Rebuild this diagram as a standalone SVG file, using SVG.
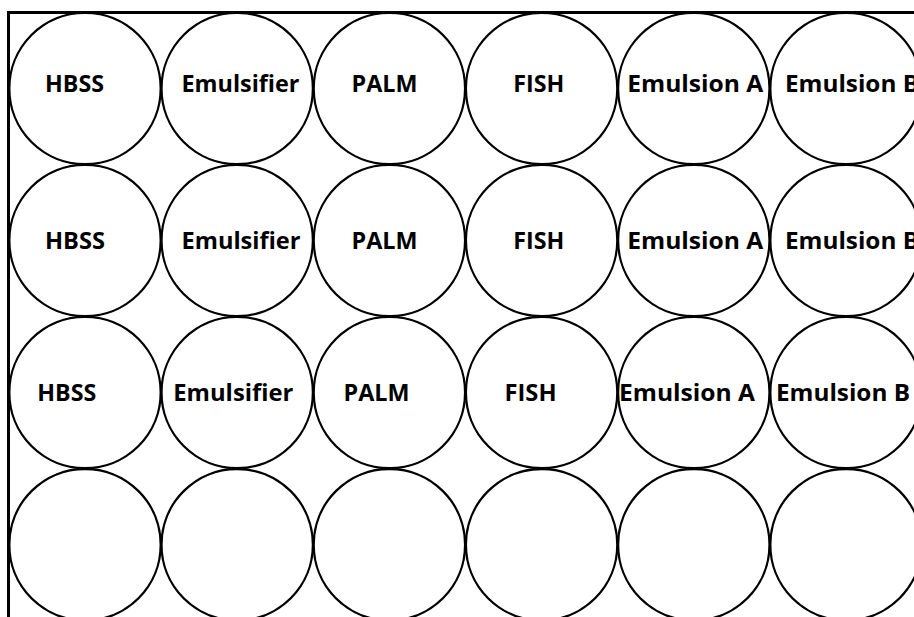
<svg xmlns="http://www.w3.org/2000/svg" width="914" height="617" viewBox="0 0 914 617">
<style>
.well{fill:#fff;stroke:#000;stroke-width:2.3}
.lbl{font-family:"Open Sans","Noto Sans","Liberation Sans",sans-serif;font-weight:bold;font-size:24px;fill:#000}
</style>
<rect x="0" y="0" width="914" height="617" fill="#fff"/>
<g id="plate">
<path d="M8.5,617 V12.5 H914" fill="none" stroke="#000" stroke-width="3"/>
</g>
<g id="r1c1"><circle class="well" cx="85" cy="88.5" r="75.7"/><text class="lbl" x="45" y="92" textLength="59" lengthAdjust="spacingAndGlyphs">HBSS</text></g>
<g id="r1c2"><circle class="well" cx="237.2" cy="88.5" r="75.7"/><text class="lbl" x="181.5" y="92" textLength="118" lengthAdjust="spacingAndGlyphs">Emulsifier</text></g>
<g id="r1c3"><circle class="well" cx="389.4" cy="88.5" r="75.7"/><text class="lbl" x="351.5" y="92" textLength="66" lengthAdjust="spacingAndGlyphs">PALM</text></g>
<g id="r1c4"><circle class="well" cx="541.6" cy="88.5" r="75.7"/><text class="lbl" x="513.3" y="92" textLength="51" lengthAdjust="spacingAndGlyphs">FISH</text></g>
<g id="r1c5"><circle class="well" cx="693.8" cy="88.5" r="75.7"/><text class="lbl" x="627.3" y="92" textLength="136" lengthAdjust="spacingAndGlyphs">Emulsion A</text></g>
<g id="r1c6"><circle class="well" cx="846" cy="88.5" r="75.7"/><text class="lbl" x="785" y="92" textLength="134" lengthAdjust="spacingAndGlyphs">Emulsion B</text></g>

<g id="r2c1"><circle class="well" cx="85" cy="240.5" r="75.7"/><text class="lbl" x="45" y="249.3" textLength="60" lengthAdjust="spacingAndGlyphs">HBSS</text></g>
<g id="r2c2"><circle class="well" cx="237.2" cy="240.5" r="75.7"/><text class="lbl" x="181.5" y="249.3" textLength="119" lengthAdjust="spacingAndGlyphs">Emulsifier</text></g>
<g id="r2c3"><circle class="well" cx="389.4" cy="240.5" r="75.7"/><text class="lbl" x="351.5" y="249.3" textLength="66" lengthAdjust="spacingAndGlyphs">PALM</text></g>
<g id="r2c4"><circle class="well" cx="541.6" cy="240.5" r="75.7"/><text class="lbl" x="513.3" y="249.3" textLength="51" lengthAdjust="spacingAndGlyphs">FISH</text></g>
<g id="r2c5"><circle class="well" cx="693.8" cy="240.5" r="75.7"/><text class="lbl" x="627.3" y="249.3" textLength="136" lengthAdjust="spacingAndGlyphs">Emulsion A</text></g>
<g id="r2c6"><circle class="well" cx="846" cy="240.5" r="75.7"/><text class="lbl" x="785" y="249.3" textLength="134" lengthAdjust="spacingAndGlyphs">Emulsion B</text></g>

<g id="r3c1"><circle class="well" cx="85" cy="392.5" r="75.7"/><text class="lbl" x="37.3" y="401" textLength="59" lengthAdjust="spacingAndGlyphs">HBSS</text></g>
<g id="r3c2"><circle class="well" cx="237.2" cy="392.5" r="75.7"/><text class="lbl" x="173.3" y="401" textLength="120" lengthAdjust="spacingAndGlyphs">Emulsifier</text></g>
<g id="r3c3"><circle class="well" cx="389.4" cy="392.5" r="75.7"/><text class="lbl" x="343.5" y="401" textLength="66" lengthAdjust="spacingAndGlyphs">PALM</text></g>
<g id="r3c4"><circle class="well" cx="541.6" cy="392.5" r="75.7"/><text class="lbl" x="504.5" y="401" textLength="52" lengthAdjust="spacingAndGlyphs">FISH</text></g>
<g id="r3c5"><circle class="well" cx="693.8" cy="392.5" r="75.7"/><text class="lbl" x="619" y="401" textLength="136" lengthAdjust="spacingAndGlyphs">Emulsion A</text></g>
<g id="r3c6"><circle class="well" cx="846" cy="392.5" r="75.7"/><text class="lbl" x="776" y="401" textLength="134" lengthAdjust="spacingAndGlyphs">Emulsion B</text></g>

<g id="r4c1"><circle class="well" cx="85" cy="544.7" r="75.7"/></g>
<g id="r4c2"><circle class="well" cx="237.2" cy="544.7" r="75.7"/></g>
<g id="r4c3"><circle class="well" cx="389.4" cy="544.7" r="75.7"/></g>
<g id="r4c4"><circle class="well" cx="541.6" cy="544.7" r="75.7"/></g>
<g id="r4c5"><circle class="well" cx="693.8" cy="544.7" r="75.7"/></g>
<g id="r4c6"><circle class="well" cx="846" cy="544.7" r="75.7"/></g>
<g id="connectors"/>
</svg>
